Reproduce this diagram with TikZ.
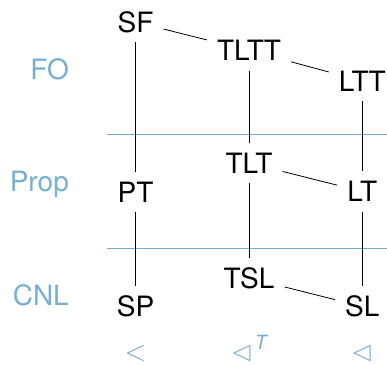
\documentclass[tikz,border=0pt]{standalone}
\usepackage{amssymb}
\usepackage{graphicx}
\usepackage{fontspec}
\setmainfont{TeX Gyre Heros}
\definecolor{lblue}{RGB}{120,175,210}
\definecolor{lbline}{RGB}{110,170,210}
\tikzset{
  cls/.style={inner sep=10pt, font=\fontsize{28}{30}\selectfont, text height=20pt, text depth=0pt},
  rowlab/.style={anchor=base east, inner sep=0pt, text=lblue, font=\fontsize{28}{30}\selectfont},
  rel/.style={anchor=base, inner sep=0pt, text=lblue, font=\normalsize},
  conn/.style={draw=black, line width=0.8pt},
  sep/.style={draw=lbline, line width=0.7pt}
}
\newcommand{\bigsym}[1]{\scalebox{2.8}{$#1$}}
\begin{document}
\begin{tikzpicture}[x=1pt,y=-1pt]
\useasboundingbox (0,0) rectangle (387,364);
% separators
\coordinate (s1a) at (107,134.6); \coordinate (s1b) at (387,134.6);
\coordinate (s2a) at (107,248); \coordinate (s2b) at (387,248);
\draw[sep] (s1a) -- (s1b);
\draw[sep] (s2a) -- (s2b);
% row labels
\node[rowlab] (fo) at (69,79) {FO};
\node[rowlab] (prop) at (69,191) {Prop};
\node[rowlab] (cnl) at (69,305) {CNL};
% classes
\node[cls] (SF) at (135.5,22) {SF};
\node[cls] (TLTT) at (249,50.5) {TLTT};
\node[cls] (LTT) at (362.3,81) {LTT};
\node[cls] (PT) at (135.5,192) {PT};
\node[cls] (TLT) at (249,163) {TLT};
\node[cls] (LT) at (362.3,191.5) {LT};
\node[cls] (SP) at (135.5,306.5) {SP};
\node[cls] (TSL) at (249,278) {TSL};
\node[cls] (SL) at (362.3,306.5) {SL};
% relations
\node[rel] (r1) at (135.5,360.5) {\bigsym{<}};
\node[rel] (r2) at (249,360.5) {\bigsym{\lhd}\kern2pt\raisebox{11.5pt}{\fontsize{19.6}{20}\selectfont\itshape T}};
\node[rel] (r3) at (362.3,360.5) {\bigsym{\lhd}};
% connectors
\draw[conn] (SF) -- (TLTT);
\draw[conn] (TLTT) -- (LTT);
\draw[conn] (TLT) -- (LT);
\draw[conn] (TSL) -- (SL);
\draw[conn] (SF) -- (PT);
\draw[conn] (PT) -- (SP);
\draw[conn] (TLTT) -- (TLT);
\draw[conn] (TLT) -- (TSL);
\draw[conn] (LTT) -- (LT);
\draw[conn] (LT) -- (SL);
\end{tikzpicture}
\end{document}
